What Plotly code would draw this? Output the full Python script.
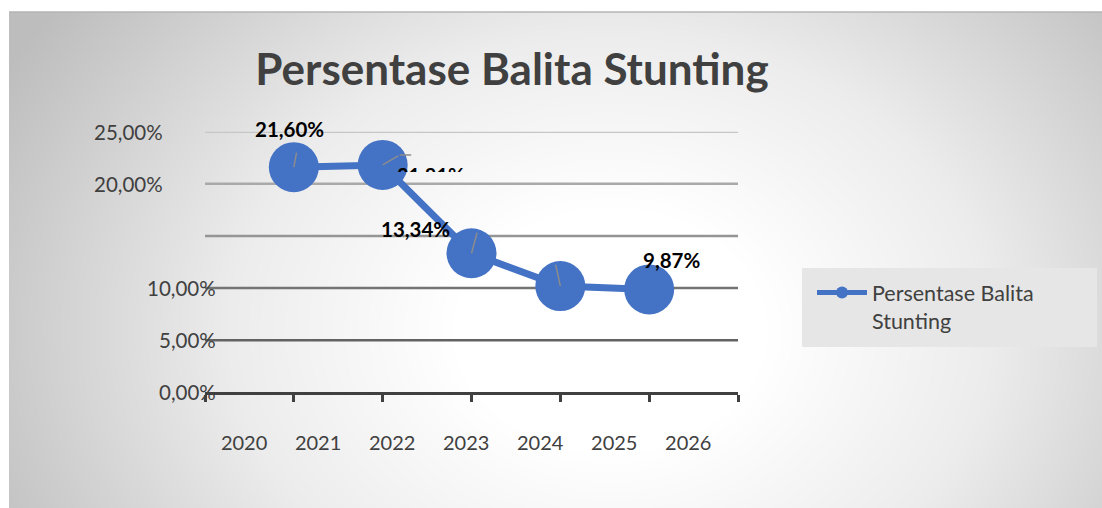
import numpy as np
import plotly.graph_objects as go

# ---------------- data ----------------
title_text = "Persentase Balita Stunting"
series_name = "Persentase Balita<br>Stunting"
years = ["2021", "2022", "2023", "2024", "2025"]
values = [21.60, 21.81, 13.34, 10.19, 9.87]          # percent
label_shown = [True, True, True, False, True]
x_tick_labels = ["2020", "2021", "2022", "2023", "2024", "2025", "2026"]
y_tick_values = [0, 5, 10, 15, 20, 25]
y_tick_labels = ["0,00%", "5,00%", "10,00%", "", "20,00%", "25,00%"]

# ---------------- geometry / style ----------------
W, H = 1102, 508               # page size
OFF = 0                        # body margin removed by post_script below
FW, FH = W - OFF, H - OFF
PX_L, PX_R = 205, 738          # x-axis pixel extent (page coords)
PY_0, PY_TOP = 392.3, 131.7    # pixel rows of 0% and 25%
Y_MAX = 25
N_SLOTS = 6                    # axis spans 6 intervals


def fx(px):
    return (px - OFF) / FW


def fy(py):
    return 1 - (py - OFF) / FH


px_per_unit_y = (PY_0 - PY_TOP) / Y_MAX
px_per_unit_x = (PX_R - PX_L) / N_SLOTS

BLUE = "#4472C4"
TXT = "#404040"
FONT = "Lato"


def fmt(v):
    return f"{v:.2f}".replace(".", ",") + "%"


fig = go.Figure()

# ---- background radial gradient (decoration) on x/y ----
gx = np.linspace(9, W, 120)
gy = np.linspace(12, H, 60)
GX, GY = np.meshgrid(gx, gy)
dist = np.sqrt(((GX - 610) / 600) ** 2 + ((GY - 330) / 470) ** 2)
fig.add_trace(go.Heatmap(
    x=gx, y=gy, z=dist, zmin=0, zmax=1.15, zsmooth="best",
    colorscale=[[0, "#ffffff"], [0.22, "#ffffff"], [0.55, "#ececec"],
                [0.8, "#d2d2d2"], [1, "#bdbdbd"]],
    showscale=False, hoverinfo="skip", xaxis="x", yaxis="y"))

# ---- main series ----
xpos = np.arange(1, len(values) + 1)
fig.add_trace(go.Scatter(
    x=xpos, y=values, name=series_name, mode="lines+markers",
    line=dict(color=BLUE, width=7),
    marker=dict(color=BLUE, size=50),
    cliponaxis=False, xaxis="x2", yaxis="y2",
    customdata=years, hovertemplate="%{customdata}: %{y:.2f}%<extra></extra>"))

# ---- clipped data label (only its top is visible) on x3/y3 ----
clip_idx = 1
shift_x_px, shift_y_px = 48, 13
clip_bottom_px = 172
x3_off = shift_x_px / px_per_unit_x
label_centre_px = PY_0 - values[clip_idx] * px_per_unit_y + shift_y_px
y3_lo = values[clip_idx] + (label_centre_px - clip_bottom_px) / px_per_unit_y
y3_hi = y3_lo + (clip_bottom_px - PY_TOP) / px_per_unit_y
fig.add_trace(go.Scatter(
    x=[xpos[clip_idx]], y=[values[clip_idx]], mode="text",
    text=[fmt(values[clip_idx])], textposition="middle center",
    textfont=dict(family=FONT, size=20, color="#000000", weight="bold"),
    cliponaxis=True, showlegend=False, hoverinfo="skip",
    xaxis="x3", yaxis="y3"))

# ---- gridlines ----
grid_colors = ["#404040", "#626262", "#747474", "#959595", "#a9a9a9", "#c6c6c6"]
for yv, col in zip(y_tick_values[1:], grid_colors[1:]):
    fig.add_shape(type="line", xref="x2", yref="y2", x0=0, x1=N_SLOTS,
                  y0=yv, y1=yv, line=dict(color=col, width=2.5), layer="below")

# ---- y tick labels (annotations, misaligned like reference) ----
y_label_right_px = [218, 218, 218, 218, 165, 165]
for yv, lab, rpx in zip(y_tick_values, y_tick_labels, y_label_right_px):
    if not lab:
        continue
    fig.add_annotation(x=fx(rpx), xref="paper", y=yv, yref="y2",
                       text=lab, showarrow=False, xanchor="right",
                       yanchor="middle",
                       font=dict(family=FONT, size=20.5, color=TXT))

# ---- leader lines (thin grey strokes inside the markers) ----
leaders = [[(3, -16)], [(17, -10), (30, -10)], [(6, -22)], [(-5, -23)], []]
for i, segs in enumerate(leaders):
    start = (0, 0)
    for seg in segs:
        fig.add_annotation(x=xpos[i], y=values[i], xref="x2", yref="y2",
                           text="", showarrow=True, arrowhead=0,
                           arrowwidth=1.5, arrowcolor="#8c8c8c", standoff=0,
                           xshift=start[0], yshift=-start[1],
                           ax=seg[0] - start[0], ay=seg[1] - start[1])
        start = seg

# ---- data labels ----
label_shifts = [(-4, 38), None, (-56, 24), None, (22, 29)]
for i, (v, show, sh) in enumerate(zip(values, label_shown, label_shifts)):
    if not show or sh is None:
        continue
    fig.add_annotation(x=xpos[i], y=v, xref="x2", yref="y2", text=fmt(v),
                       showarrow=False, xshift=sh[0], yshift=sh[1],
                       font=dict(family=FONT, size=20.5, color="#000000",
                                 weight="bold"))

# ---- legend box + panel edge ----
fig.add_shape(type="rect", xref="paper", yref="paper",
              x0=fx(802), x1=fx(1097), y0=fy(347), y1=fy(268),
              fillcolor="#e6e6e6", line=dict(width=0), layer="above")
fig.add_shape(type="line", xref="paper", yref="paper",
              x0=fx(9), x1=1, y0=fy(12), y1=fy(12),
              line=dict(color="#b4b4b4", width=1.5), layer="above")

label_pos = [0.44 + k * (5 / 6) for k in range(len(x_tick_labels))]

fig.update_layout(
    width=FW, height=FH, margin=dict(l=0, r=0, t=0, b=0),
    paper_bgcolor="#ffffff", plot_bgcolor="rgba(0,0,0,0)",
    title=dict(text=title_text, x=fx(512), y=fy(70), xref="paper",
               yref="paper", xanchor="center", yanchor="middle",
               font=dict(family=FONT, size=44, color=TXT, weight="bold")),
    showlegend=True,
    legend=dict(x=fx(812), y=fy(272), xanchor="left", yanchor="top",
                bgcolor="rgba(0,0,0,0)", borderwidth=0, valign="top",
                itemsizing="constant", itemwidth=50,
                font=dict(family=FONT, size=21.5, color=TXT)),
    xaxis=dict(domain=[fx(9), 1], range=[9, W], visible=False,
               fixedrange=True),
    yaxis=dict(domain=[0, fy(12)], range=[H, 12], visible=False,
               fixedrange=True),
    xaxis2=dict(domain=[fx(PX_L), fx(PX_R)], range=[0, N_SLOTS], anchor="y2",
                tickmode="array", tickvals=label_pos, ticktext=x_tick_labels,
                ticks="", showgrid=False, zeroline=False,
                showline=True, linecolor="#404040", linewidth=3,
                ticklabelstandoff=31,
                tickfont=dict(family=FONT, size=20, color=TXT),
                minor=dict(tickmode="array", tickvals=list(range(N_SLOTS + 1)),
                           ticks="outside", ticklen=7, tickwidth=3,
                           tickcolor="#404040", showgrid=False),
                fixedrange=True),
    yaxis2=dict(domain=[fy(PY_0), fy(PY_TOP)], range=[0, Y_MAX], anchor="x2",
                showgrid=False, zeroline=False, showticklabels=False,
                ticks="", showline=False, fixedrange=True),
    xaxis3=dict(domain=[fx(PX_L), fx(PX_R)], range=[-x3_off, N_SLOTS - x3_off],
                anchor="y3", visible=False, fixedrange=True),
    yaxis3=dict(domain=[fy(clip_bottom_px), fy(PY_TOP)], range=[y3_lo, y3_hi],
                anchor="x3", visible=False, fixedrange=True),
)

fig.write_html(
    "out.html",
    config={"displayModeBar": False},
    post_script="document.body.style.margin='0';"
                "document.documentElement.style.overflow='hidden';")
